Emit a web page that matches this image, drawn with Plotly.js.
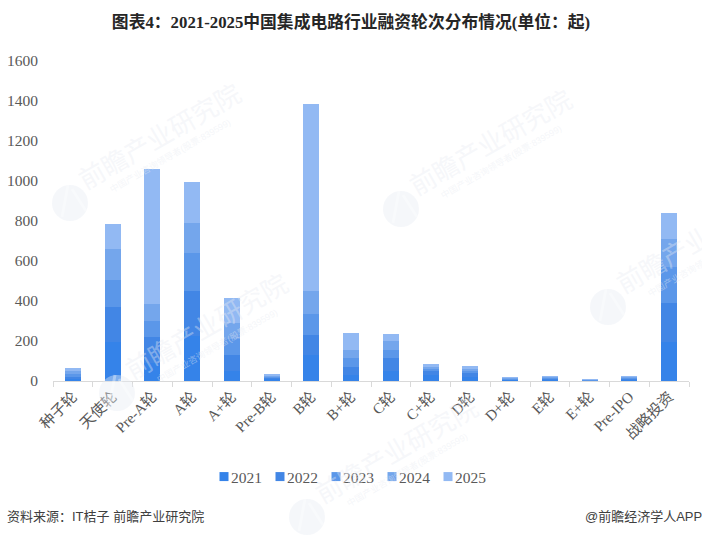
<!DOCTYPE html>
<html>
<head>
<meta charset="utf-8">
<script src="https://cdn.plot.ly/plotly-3.0.1.min.js"></script>
<style>html,body{margin:0;padding:0;background:#fff}#chart{width:702px;height:537px}</style>
</head>
<body>
<div id="chart"></div>
<script>
var categories = ["种子轮","天使轮","Pre-A轮","A轮","A+轮","Pre-B轮","B轮","B+轮","C轮","C+轮","D轮","D+轮","E轮","E+轮","Pre-IPO","战略投资"];
var v2021 = [8,197,92,225,52,10,132,30,52,30,22,5,6,2,7,197];
var v2022 = [14,171,126,227,80,8,96,38,61,18,16,4,6,2,6,191];
var v2023 = [14,137,82,188,76,6,107,45,42,12,12,3,4,2,4,180];
var v2024 = [12,155,85,150,82,5,115,42,43,12,12,3,4,2,3,142];
var v2025 = [17,125,675,205,125,6,935,85,37,13,13,5,5,2,5,130];
var seriesNames = ["2021","2022","2023","2024","2025"];
var seriesValues = [v2021,v2022,v2023,v2024,v2025];
var seriesColors = ["#3583E9","#4286E5","#5B97E9","#74A6EC","#92B9F3"];
var yTicks = [0,200,400,600,800,1000,1200,1400,1600];
var chartTitle = '图表4\uFF1A2021-2025中国集成电路行业融资轮次分布情况(单位\uFF1A起)';
var sourceText = '资料来源\uFF1AIT桔子 前瞻产业研究院';
var creditText = '@前瞻经济学人APP';
var wmMain = '前瞻产业研究院';
var wmSub = '中国产业咨询领导者(股票:839599)';

var serif = '"Liberation Serif","Noto Sans CJK SC",serif';
var sans = '"Liberation Sans","Noto Sans CJK SC",sans-serif';
var L=53,R=689,T=61,B=381;
function px(x){return (x-L)/(R-L);}
function py(y){return (B-y)/(B-T);}

var traces = seriesNames.map(function(n,i){
  return {type:'bar',name:n,x:categories,y:seriesValues[i],marker:{color:seriesColors[i],line:{width:0}},hoverinfo:'x+y+name'};
});

var annotations = [
 {text:sourceText,xref:'paper',yref:'paper',x:px(7),y:py(516),xanchor:'left',yanchor:'middle',borderpad:0,borderwidth:0,showarrow:false,font:{family:sans,size:13,color:'#404040'}},
 {text:creditText,xref:'paper',yref:'paper',x:px(702),y:py(516),xanchor:'right',yanchor:'middle',borderpad:0,borderwidth:0,showarrow:false,font:{family:sans,size:13,color:'#404040'}}
];
var shapes = [];
var marks = [[70,203],[401,209],[608,307],[117,393],[307,517]];
marks.forEach(function(m){
  var cx=m[0],cy=m[1];
  shapes.push({type:'circle',xref:'paper',yref:'paper',x0:px(cx-18),x1:px(cx+18),y0:py(cy+18),y1:py(cy-18),fillcolor:'rgba(232,235,242,0.42)',line:{width:0},layer:'above'});
  shapes.push({type:'line',xref:'paper',yref:'paper',x0:px(cx-2),y0:py(cy-18),x1:px(cx-8),y1:py(cy+14),line:{color:'rgba(255,255,255,0.35)',width:3},layer:'above'});
  shapes.push({type:'line',xref:'paper',yref:'paper',x0:px(cx+2),y0:py(cy-14),x1:px(cx+16),y1:py(cy+8),line:{color:'rgba(255,255,255,0.35)',width:3},layer:'above'});
  annotations.push({text:wmMain,textangle:-30,xref:'paper',yref:'paper',x:px(cx+90),y:py(cy-66),xanchor:'center',yanchor:'middle',showarrow:false,font:{family:sans,size:26,color:'rgba(232,235,242,0.4)'}});
  annotations.push({text:wmSub,textangle:-30,xref:'paper',yref:'paper',x:px(cx+100),y:py(cy-48),xanchor:'center',yanchor:'middle',showarrow:false,font:{family:sans,size:9,color:'rgba(232,235,242,0.45)'}});
});

var layout = {
  width:702,height:537,barmode:'stack',bargap:0.6,
  paper_bgcolor:'#fff',plot_bgcolor:'#fff',
  margin:{l:L,r:702-R,t:T,b:537-B,pad:0},
  title:{text:'<b>'+chartTitle+'</b>',x:351/702,xanchor:'center',y:1-22/537,yanchor:'middle',font:{family:serif,size:16.8,color:'#262626'}},
  xaxis:{type:'category',categories:categories,tickson:'boundaries',ticks:'outside',ticklen:5,tickcolor:'#d9d9d9',showline:true,linecolor:'#d9d9d9',linewidth:1,showgrid:false,tickangle:-45,tickfont:{family:serif,size:15,color:'#595959'},automargin:false},
  yaxis:{range:[0,1600],tickmode:'array',tickvals:yTicks,ticks:'',ticklabelstandoff:14,showgrid:false,zeroline:false,showline:false,tickfont:{family:serif,size:15.5,color:'#595959'},automargin:false},
  showlegend:true,
  legend:{orientation:'h',x:204/702,xanchor:'left',xref:'container',y:1-477/537,yref:'container',yanchor:'middle',traceorder:'normal',font:{family:serif,size:15.5,color:'#595959'},itemclick:false,itemdoubleclick:false,entrywidth:11,entrywidthmode:'pixels',itemwidth:30},
  annotations:annotations,shapes:shapes
};
Plotly.newPlot('chart',traces,layout,{displayModeBar:false,responsive:false}).then(function(){
  var root=document.getElementById('chart');
  root.querySelectorAll('.legend .legendtext').forEach(function(t){t.setAttribute('x','27');});
  root.querySelectorAll('.legend .legendpoints path').forEach(function(p){p.setAttribute('transform','translate(20,0) scale(0.75)');});
  root.querySelectorAll('.legend .scrollbox').forEach(function(s){s.removeAttribute('clip-path');});
});
</script>
</body>
</html>
